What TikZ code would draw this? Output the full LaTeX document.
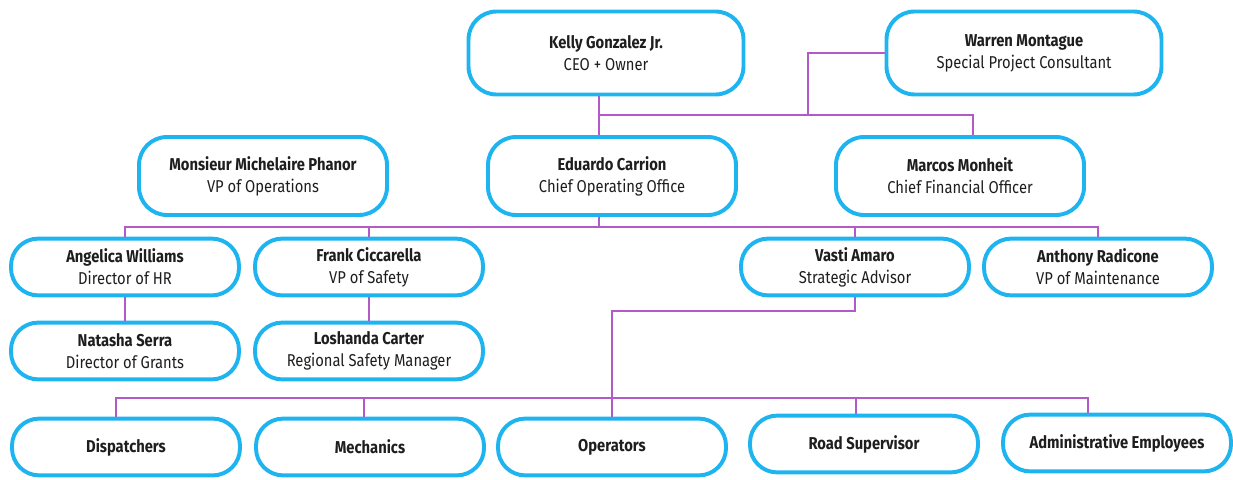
\documentclass[tikz,border=0pt]{standalone}
\usepackage{fontspec}
\setmainfont{Fira Sans}[FakeStretch=0.86]
\usepackage{xcolor}
\usepackage{tikz}
\usetikzlibrary{positioning,calc}
\definecolor{boxblue}{HTML}{1EB4F0}
\definecolor{linkpurple}{HTML}{B45AC8}
\definecolor{ink}{HTML}{1E1E1E}
\newcommand{\person}[2]{\textbf{#1}\\#2}

\begin{document}
\begin{tikzpicture}[
    box/.style={rectangle,draw=boxblue,line width=2.8pt,rounded corners=0.7cm,
                fill=white,align=center,text=ink,font=\fontsize{12.2}{15.6}\selectfont},
    big/.style={box,minimum width=6.875cm,minimum height=2.075cm},
    mid/.style={box,minimum width=6.2cm,minimum height=1.95cm},
    small/.style={box,minimum width=5.7cm,minimum height=1.42cm,rounded corners=0.68cm},
    link/.style={draw=linkpurple,line width=1.3pt}
]
\useasboundingbox (0,0) rectangle (30.825,-11.975);

\node[big]   (kelly)  at (15.15,-1.325) {\person{Kelly Gonzalez Jr.}{CEO + Owner}};
\node[big]   (warren) at (25.6,-1.325) {\person{Warren Montague}{Special Project Consultant}};

\node[mid]   (phanor) at (6.575,-4.4) {\person{Monsieur Michelaire Phanor}{VP of Operations}};
\node[mid]   (eduardo) at (15.3,-4.4) {\person{Eduardo Carrion}{Chief Operating Office}};
\node[mid]   (marcos) at (24.0,-4.4) {\person{Marcos Monheit}{Chief Financial Officer}};

\node[small] (angelica) at (3.125,-6.675) {\person{Angelica Williams}{Director of HR}};
\node[small] (frank)  at (9.225,-6.675) {\person{Frank Ciccarella}{VP of Safety}};
\node[small] (vasti)  at (21.375,-6.675) {\person{Vasti Amaro}{Strategic Advisor}};
\node[small] (anthony) at (27.45,-6.675) {\person{Anthony Radicone}{VP of Maintenance}};

\node[small] (natasha) at (3.125,-8.775) {\person{Natasha Serra}{Director of Grants}};
\node[small] (loshanda) at (9.225,-8.775) {\person{Loshanda Carter}{Regional Safety Manager}};

\node[small] (dispatch) at (3.15,-11.175) {\textbf{Dispatchers}};
\node[small] (mechanics) at (9.25,-11.175) {\textbf{Mechanics}};
\node[small] (operators) at (15.3,-11.175) {\textbf{Operators}};
\node[small] (road)   at (21.6,-11.1) {\textbf{Road Supervisor}};
\node[small] (admin)  at (27.925,-11.075) {\textbf{Administrative Employees}};

\coordinate (topbus) at (0,-2.875);
\coordinate (warjoin) at (20.2,-2.875);
\coordinate (ceodrop) at (14.975,0);
\coordinate (midbus) at (0,-5.675);
\coordinate (vastibus) at (0,-7.775);
\coordinate (lowbus) at (0,-9.95);

% top level
\draw[link] (ceodrop |- kelly.south) -- (ceodrop |- eduardo.north);
\draw[link] (ceodrop |- topbus) -| ($(marcos.north)+(0.325,0)$);
\draw[link] (warren.west) -| (warjoin);

% second level
\draw[link] (angelica.north) |- (ceodrop |- midbus) -| (anthony.north);
\draw[link] (ceodrop |- eduardo.south) -- (ceodrop |- midbus);
\foreach \n in {frank,vasti}
    \draw[link] (\n.north) -- (\n.north |- midbus);

\draw[link] (angelica) -- (natasha);
\draw[link] (frank) -- (loshanda);

% staff
\draw[link] (vasti.south) |- (operators.north |- vastibus) -- (operators.north);
\draw[link] ($(dispatch.north)+(-0.25,0)$) |- ($(admin.north |- lowbus)+(-0.725,0)$)
    -- ($(admin.north)+(-0.725,0)$);
\draw[link] ($(mechanics.north)+(-0.15,0)$) -- ($(mechanics.north |- lowbus)+(-0.15,0)$);
\draw[link] ($(road.north)+(-0.2,0)$) -- ($(road.north |- lowbus)+(-0.2,0)$);
\end{tikzpicture}
\end{document}
